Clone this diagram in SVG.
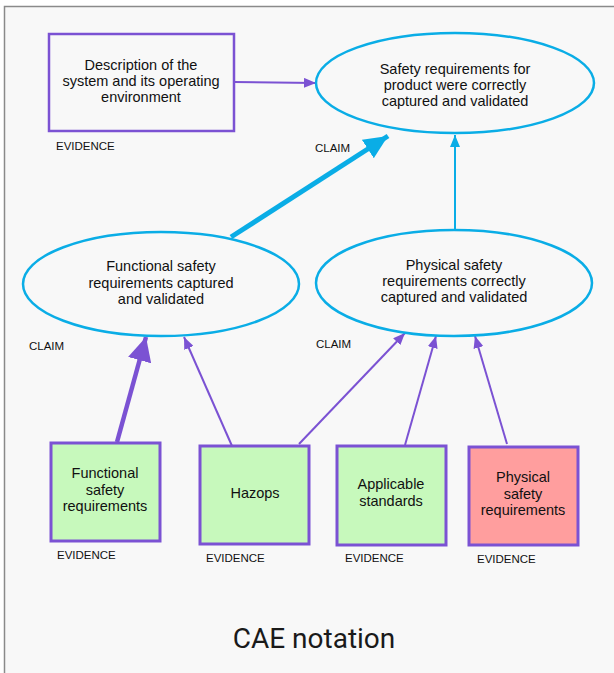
<svg xmlns="http://www.w3.org/2000/svg" width="614" height="673" viewBox="0 0 614 673">
<style>
.ev{fill:none;stroke:#7b52d3;stroke-width:2.5}
.evg{fill:#c7f9bc;stroke:#7b52d3;stroke-width:3}
.evr{fill:#ff9e9e;stroke:#7b52d3;stroke-width:3}
.cl{fill:none;stroke:#0aade6;stroke-width:2.5}
.t{font-family:"Liberation Sans",Arial,sans-serif;font-size:14.5px;fill:#111;text-anchor:middle}
.lb{font-family:"Liberation Sans",Arial,sans-serif;font-size:11.5px;fill:#111}
.pl{stroke:#7b52d3;stroke-width:2;fill:none}
.bl{stroke:#0aade6;stroke-width:2;fill:none}
</style>
<defs>
<marker id="ap" markerUnits="userSpaceOnUse" markerWidth="12" markerHeight="10" refX="12" refY="5" orient="auto"><path d="M0,0 L12,5 L0,10 z" fill="#7b52d3"/></marker>
<marker id="ab" markerUnits="userSpaceOnUse" markerWidth="12" markerHeight="10" refX="12" refY="5" orient="auto"><path d="M0,0 L12,5 L0,10 z" fill="#0aade6"/></marker>
<marker id="apb" markerUnits="userSpaceOnUse" markerWidth="24" markerHeight="24" refX="24" refY="12" orient="auto"><path d="M0,0 L24,12 L0,24 z" fill="#7b52d3"/></marker>
<marker id="abb" markerUnits="userSpaceOnUse" markerWidth="24" markerHeight="22" refX="24" refY="11" orient="auto"><path d="M0,0 L24,11 L0,22 z" fill="#0aade6"/></marker>
</defs>
<rect x="0" y="0" width="614" height="673" fill="#ffffff"/>
<rect x="4.5" y="6.5" width="620" height="680" fill="#f8f8f8" stroke="#8a8a8a" stroke-width="1.5"/>
<g id="connectors">
<line class="pl" x1="234" y1="82" x2="316" y2="83" marker-end="url(#ap)"/>
<line x1="231" y1="237" x2="388" y2="136" stroke="#0aade6" stroke-width="5" marker-end="url(#abb)"/>
<line class="bl" x1="455" y1="230" x2="455" y2="135" marker-end="url(#ab)"/>
<line x1="117" y1="442" x2="146" y2="337" stroke="#7b52d3" stroke-width="4.5" marker-end="url(#apb)"/>
<line class="pl" x1="232" y1="446" x2="184" y2="337" marker-end="url(#ap)"/>
<line class="pl" x1="299" y1="444" x2="405" y2="333" marker-end="url(#ap)"/>
<line class="pl" x1="405" y1="445" x2="436" y2="336" marker-end="url(#ap)"/>
<line class="pl" x1="507" y1="444" x2="475" y2="336" marker-end="url(#ap)"/>
</g>
<g id="desc">
<rect class="ev" x="49" y="34" width="185" height="97"/>
<text class="t" x="141" y="70">Description of the</text>
<text class="t" x="141" y="86">system and its operating</text>
<text class="t" x="141" y="102">environment</text>
<text class="lb" x="56" y="150">EVIDENCE</text>
</g>
<g id="claim-top">
<ellipse class="cl" cx="455" cy="83" rx="139" ry="50"/>
<text class="t" x="455" y="74">Safety requirements for</text>
<text class="t" x="455" y="90">product were correctly</text>
<text class="t" x="455" y="106">captured and validated</text>
<text class="lb" x="315" y="152">CLAIM</text>
</g>
<g id="claim-functional">
<ellipse class="cl" cx="161" cy="284" rx="138" ry="52"/>
<text class="t" x="161" y="271">Functional safety</text>
<text class="t" x="161" y="288">requirements captured</text>
<text class="t" x="161" y="304">and validated</text>
<text class="lb" x="29" y="350">CLAIM</text>
</g>
<g id="claim-physical">
<ellipse class="cl" cx="454" cy="283" rx="138" ry="53"/>
<text class="t" x="454" y="270">Physical safety</text>
<text class="t" x="454" y="286">requirements correctly</text>
<text class="t" x="454" y="302">captured and validated</text>
<text class="lb" x="316" y="348">CLAIM</text>
</g>
<g id="ev-functional">
<rect class="evg" x="51" y="443" width="109" height="98"/>
<text class="t" x="105" y="478">Functional</text>
<text class="t" x="105" y="495">safety</text>
<text class="t" x="105" y="511">requirements</text>
<text class="lb" x="57" y="559">EVIDENCE</text>
</g>
<g id="ev-hazops">
<rect class="evg" x="200" y="446" width="109" height="98"/>
<text class="t" x="255" y="498">Hazops</text>
<text class="lb" x="206" y="562">EVIDENCE</text>
</g>
<g id="ev-standards">
<rect class="evg" x="337" y="446" width="109" height="99"/>
<text class="t" x="391" y="489">Applicable</text>
<text class="t" x="391" y="506">standards</text>
<text class="lb" x="345" y="562">EVIDENCE</text>
</g>
<g id="ev-physical">
<rect class="evr" x="469" y="447" width="109" height="98"/>
<text class="t" x="523" y="482">Physical</text>
<text class="t" x="523" y="499">safety</text>
<text class="t" x="523" y="515">requirements</text>
<text class="lb" x="477" y="563">EVIDENCE</text>
</g>
<text x="314" y="648" text-anchor="middle" font-family="Roboto, 'Liberation Sans', sans-serif" font-size="28" fill="#1a1a1a">CAE notation</text>
</svg>
